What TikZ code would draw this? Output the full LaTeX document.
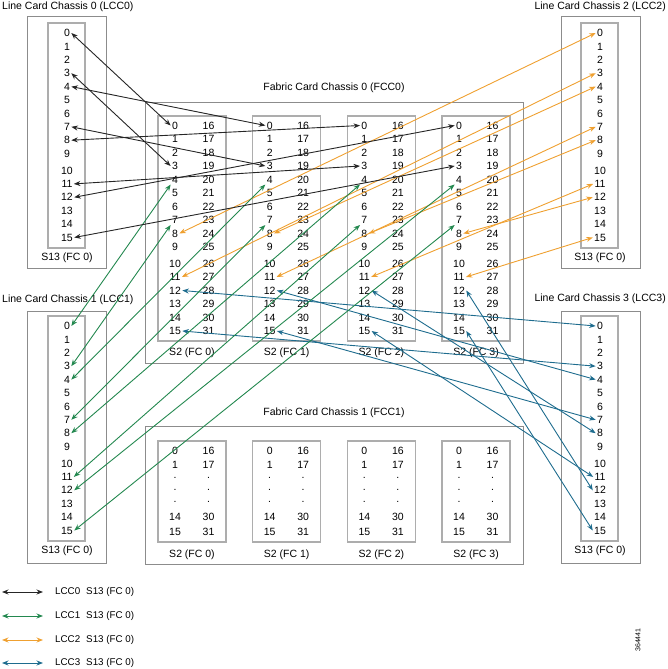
\documentclass[tikz,border=0pt]{standalone}
\usepackage{fontspec}
\setmainfont{Liberation Sans}
\usetikzlibrary{arrows.meta}
\definecolor{boxgray}{HTML}{8C8C8C}
\definecolor{cardgray}{HTML}{ADADAD}
\definecolor{lccblack}{HTML}{262626}
\definecolor{lccgreen}{HTML}{23884F}
\definecolor{lccorange}{HTML}{EFA030}
\definecolor{lccblue}{HTML}{1E6C8E}
\tikzset{
  port/.style={inner sep=1.2pt,font=\fontsize{10.5}{12}\selectfont},
  title/.style={inner sep=0pt,font=\fontsize{10.5}{12}\selectfont},
  legendtext/.style={inner sep=0pt,font=\fontsize{9.8}{12}\selectfont},
  chassisbox/.style={draw=boxgray,line width=1pt},
  cardbox/.style={draw=cardgray,line width=1.3pt},
  link/.style={line width=0.9pt,{Stealth[length=6.5pt,width=5pt]}-{Stealth[length=6.5pt,width=5pt]}}
}
\begin{document}
\begin{tikzpicture}[x=1pt,y=-1pt]
    \useasboundingbox (0,0) rectangle (668,669);

    \node[title,anchor=west] (lcc0t) at (2,7) {Line Card Chassis 0 (LCC0)};
    \node[title,anchor=west] (lcc1t) at (2,300) {Line Card Chassis 1 (LCC1)};
    \node[title,anchor=east] (lcc2t) at (666,7) {Line Card Chassis 2 (LCC2)};
    \node[title,anchor=east] (lcc3t) at (666,299) {Line Card Chassis 3 (LCC3)};
    \node[title] (fcc0t) at (334,88) {Fabric Card Chassis 0 (FCC0)};
    \node[title] (fcc1t) at (334,413) {Fabric Card Chassis 1 (FCC1)};

    \draw[chassisbox] (27,17) rectangle (106,268);
    \draw[chassisbox] (27,311) rectangle (106,563);
    \draw[chassisbox] (561,17) rectangle (640,268);
    \draw[chassisbox] (561,311) rectangle (640,563);
    \draw[chassisbox] (145,102) rectangle (523,363);
    \draw[chassisbox] (145,426) rectangle (523,564);

    \foreach \c/\xx/\yo in {0/67/33,1/67/326,2/600/33,3/600/326}{
        \draw[cardbox] (\xx-19,\yo-10) rectangle ++(37,225);
        \node[port] (s13-\c) at (\xx,\yo+225) {S13 (FC 0)};
        \foreach \i in {0,...,15}{
            \pgfmathsetmacro\yy{\yo+13.4*\i+(\i>9)*3.5}
            \node[port] (lcc\c-\i) at (\xx,\yy) {\i};
        }
    }

    \foreach \k in {0,...,3}{
        \pgfmathsetmacro\xl{158+94.67*\k}
        \draw[cardbox] (\xl,116) rectangle ++(68,225);
        \node[port] (s2a-\k) at (\xl+34,353) {S2 (FC \k)};
        \foreach \i in {0,...,15}{
            \pgfmathsetmacro\yy{125.5+13.5*\i+(\i>9)*3}
            \pgfmathtruncatemacro\j{\i+16}
            \node[port] (fa\k-\i) at (\xl+17,\yy) {\i};
            \node[port] (fa\k-\j) at (\xl+50.5,\yy) {\j};
        }
        \draw[cardbox] (\xl,441) rectangle ++(68,101);
        \node[port] (s2b-\k) at (\xl+34,555) {S2 (FC \k)};
        \foreach \n/\l/\r/\yy in {a/0/16/451,b/1/17/465,c/././478,d/././490,e/././502,f/14/30/517,g/15/31/532}{
            \node[port] (fb\k-\n l) at (\xl+17,\yy) {\l};
            \node[port] (fb\k-\n r) at (\xl+50.5,\yy) {\r};
        }
    }

    \foreach \j in {0,...,3}{
        \pgfmathtruncatemacro\a{4*\j}
        \pgfmathtruncatemacro\b{4*\j+3}
        \draw[link,lccblack] (lcc0-\a.east) -- (fa\j-0.west);
        \draw[link,lccblack] (lcc0-\b.east) -- (fa\j-3.west);
        \draw[link,lccgreen] (lcc1-\a.east) -- (fa\j-4.south west);
        \draw[link,lccgreen] (lcc1-\b.east) -- (fa\j-7.south west);
        \draw[link,lccorange] (lcc2-\a.west) -- (fa\j-8.east);
        \draw[link,lccorange] (lcc2-\b.west) -- (fa\j-11.east);
        \draw[link,lccblue] (lcc3-\a.west) -- (fa\j-12.east);
        \draw[link,lccblue] (lcc3-\b.west) -- (fa\j-15.east);
    }

    \foreach \c/\col/\yy in {0/lccblack/592,1/lccgreen/616,2/lccorange/640,3/lccblue/663}{
        \coordinate (leg\c-a) at (2,\yy);
        \coordinate (leg\c-b) at (43,\yy);
        \draw[link,\col] (leg\c-a) -- (leg\c-b);
        \node[legendtext,anchor=west] (leg\c) at (55,\yy) {LCC\c\hspace{6pt}S13 (FC 0)};
    }
    \node[rotate=90,inner sep=0pt,font=\fontsize{7}{8}\selectfont] (figid) at (638,640) {364441};
\end{tikzpicture}
\end{document}
